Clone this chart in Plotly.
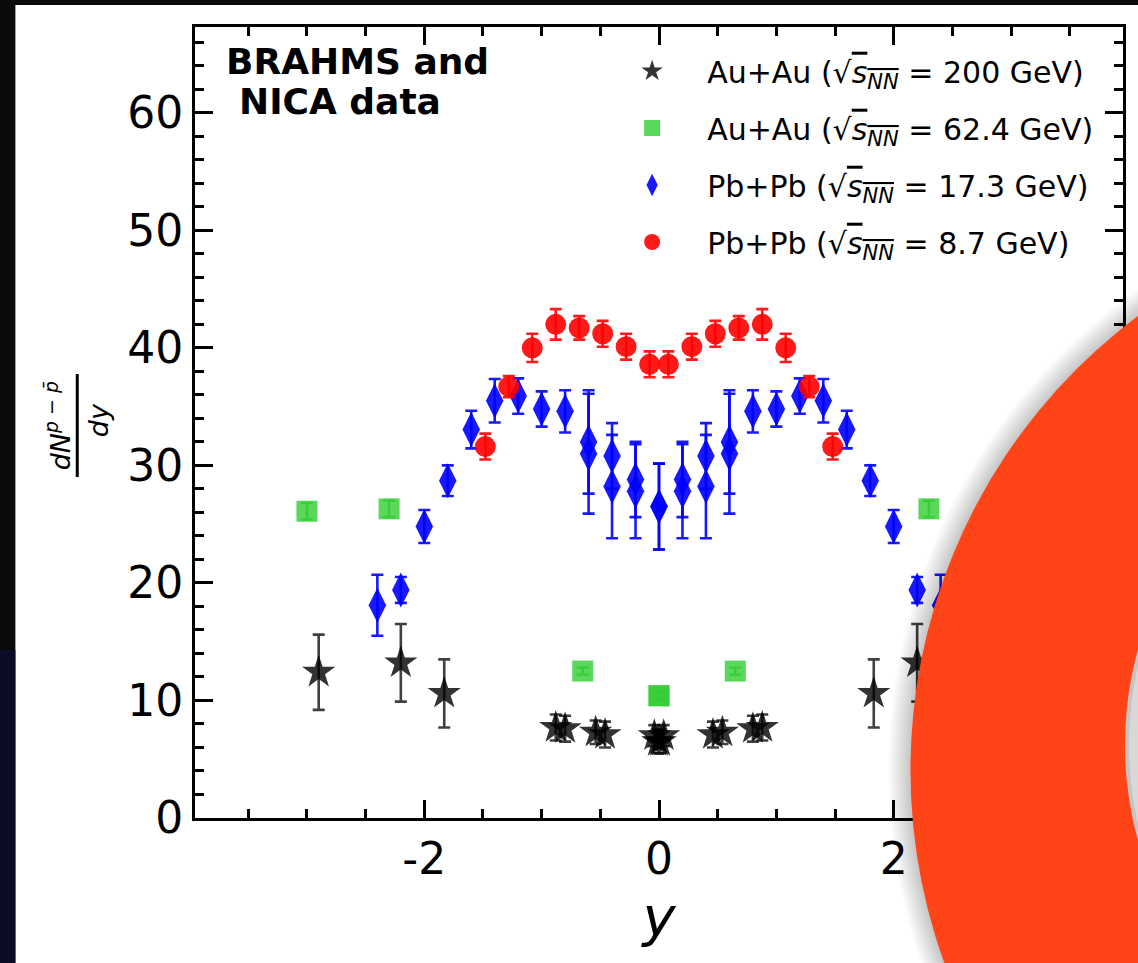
import plotly.graph_objects as go

# ---------------- data ----------------
# Au+Au, sqrt(sNN)=200 GeV (black stars)
auau200_x = [-2.90, -2.20, -1.83, -0.88, -0.80, -0.54, -0.46, -0.04, -0.01,
             0.01, 0.04, 0.46, 0.54, 0.80, 0.88, 1.83, 2.20, 2.90]
auau200_v = [12.4, 13.2, 10.6, 7.7, 7.6, 7.3, 7.1, 7.0, 6.5,
             6.5, 7.0, 7.1, 7.3, 7.6, 7.7, 10.6, 13.2, 12.4]
auau200_e = [3.2, 3.3, 2.9, 1.1, 1.1, 1.0, 1.1, 0.9, 1.0,
             1.0, 0.9, 1.1, 1.0, 1.1, 1.1, 2.9, 3.3, 3.2]

# Au+Au, sqrt(sNN)=62.4 GeV (green squares)
auau62_x = [-3.00, -2.30, -0.65, 0.00, 0.00, 0.65, 2.30, 3.00]
auau62_v = [26.1, 26.3, 12.5, 10.4, 10.4, 12.5, 26.3, 26.1]
auau62_e = [0.7, 0.7, 0.3, 0.3, 0.3, 0.3, 0.7, 0.7]

# Pb+Pb, sqrt(sNN)=17.3 GeV (blue diamonds)
pbpb17_x = [-2.4, -2.2, -2.0, -1.8, -1.6, -1.4, -1.2, -1.0, -0.8, -0.6, -0.6,
            -0.4, -0.4, -0.2, -0.2, 0.0, 0.0, 0.2, 0.2, 0.4, 0.4, 0.6, 0.6,
            0.8, 1.0, 1.2, 1.4, 1.6, 1.8, 2.0, 2.2, 2.4]
pbpb17_v = [18.1, 19.4, 24.8, 28.7, 33.05, 35.5, 35.9, 34.8, 34.6, 32.0, 31.0,
            30.8, 28.2, 28.8, 27.8, 26.5, 26.5, 27.8, 28.8, 28.2, 30.8, 31.0, 32.0,
            34.6, 34.8, 35.9, 35.5, 33.05, 28.7, 24.8, 19.4, 18.1]
pbpb17_e = [2.6, 1.1, 1.4, 1.3, 1.6, 1.85, 1.5, 1.5, 1.8, 4.4, 5.1,
            2.8, 4.4, 3.2, 4.0, 3.65, 3.65, 4.0, 3.2, 4.4, 2.8, 5.1, 4.4,
            1.8, 1.5, 1.5, 1.85, 1.6, 1.3, 1.4, 1.1, 2.6]

# Pb+Pb, sqrt(sNN)=8.7 GeV (red circles)
pbpb8_x = [-1.48, -1.28, -1.08, -0.88, -0.68, -0.48, -0.28, -0.08,
           0.08, 0.28, 0.48, 0.68, 0.88, 1.08, 1.28, 1.48]
pbpb8_v = [31.6, 36.7, 40.0, 42.0, 41.7, 41.2, 40.1, 38.6,
           38.6, 40.1, 41.2, 41.7, 42.0, 40.0, 36.7, 31.6]
pbpb8_e = [1.1, 0.9, 1.2, 1.3, 1.0, 1.1, 1.1, 1.1,
           1.1, 1.1, 1.1, 1.0, 1.3, 1.2, 0.9, 1.1]

series_names = [
    "Au+Au (√<span style='text-decoration:overline'><i>s</i><sub><i>NN</i></sub></span> = 200 GeV)",
    "Au+Au (√<span style='text-decoration:overline'><i>s</i><sub><i>NN</i></sub></span> = 62.4 GeV)",
    "Pb+Pb (√<span style='text-decoration:overline'><i>s</i><sub><i>NN</i></sub></span> = 17.3 GeV)",
    "Pb+Pb (√<span style='text-decoration:overline'><i>s</i><sub><i>NN</i></sub></span> = 8.7 GeV)",
]

x_tick_vals = [-2, 0, 2]
x_tick_text = ["-2", "0", "2"]
y_tick_vals = [0, 10, 20, 30, 40, 50, 60]
y_tick_text = ["0", "10", "20", "30", "40", "50", "60"]

# ---------------- figure geometry ----------------
W, H = 1138, 963
ML, MR, MT, MB = 195, 13, 27, 145
PW, PH = W - ML - MR, H - MT - MB


def px(xp):
    return (xp - ML) / PW


def py(yp):
    return (H - MB - yp) / PH


fig = go.Figure()


def add_series(name, xs, ys, es, symbol, size, mcolor, ecolor):
    fig.add_trace(go.Scatter(
        x=xs, y=ys, mode="markers", name=name, legendgroup=name,
        marker=dict(symbol=symbol, size=size, color=mcolor, line=dict(width=0)),
        error_y=dict(type="data", array=es, visible=True, color=ecolor,
                     thickness=2.6, width=6),
    ))


add_series(series_names[0], auau200_x, auau200_v, auau200_e, "star", 25,
           "rgba(0,0,0,0.8)", "rgba(0,0,0,0.75)")
add_series(series_names[1], auau62_x, auau62_v, auau62_e, "square", 21,
           "rgba(50,205,50,0.8)", "rgba(50,205,50,0.8)")
add_series(series_names[2], pbpb17_x, pbpb17_v, pbpb17_e, "diamond-tall", 25,
           "rgba(0,0,255,0.9)", "rgba(0,0,255,0.9)")
add_series(series_names[3], pbpb8_x, pbpb8_v, pbpb8_e, "circle", 21,
           "rgba(255,0,0,0.9)", "rgba(255,0,0,0.9)")

axis_common = dict(
    showgrid=False, zeroline=False, showline=True, linewidth=3, linecolor="black",
    mirror="ticks", ticks="inside", ticklen=18, tickwidth=3, tickcolor="black",
    tickfont=dict(family="DejaVu Sans", size=44, color="black"),
)

fig.update_xaxes(
    range=[-3.954, 3.954], tickmode="array", tickvals=x_tick_vals, ticktext=x_tick_text,
    minor=dict(dtick=0.5, tick0=0, ticks="inside", ticklen=9, tickwidth=3,
               tickcolor="black", showgrid=False),
    title=dict(text="<i>y</i>", font=dict(family="DejaVu Sans", size=56, color="black"),
               standoff=3),
    **axis_common,
)
fig.update_yaxes(
    range=[0, 67.3], tickmode="array", tickvals=y_tick_vals, ticktext=y_tick_text,
    minor=dict(dtick=2, tick0=0, ticks="inside", ticklen=9, tickwidth=3,
               tickcolor="black", showgrid=False),
    **axis_common,
)

shapes = [
    # white figure sheet on a dark surround
    dict(type="rect", xref="paper", yref="paper", x0=px(15), x1=px(1145),
         y0=py(970), y1=py(5), fillcolor="white", line=dict(width=0), layer="below"),
    dict(type="rect", xref="paper", yref="paper", x0=px(-5), x1=px(15),
         y0=py(970), y1=py(650), fillcolor="#0c0c26", line=dict(width=0), layer="below"),
    # fraction bar of the y-axis label
    dict(type="line", xref="paper", yref="paper", x0=px(77), x1=px(77),
         y0=py(477), y1=py(374), line=dict(color="black", width=3)),
]

# orange ring overlay (with a soft shadow)
cx, cy, r = 1478, 770, 566
for dr in range(22, 0, -2):
    shapes.append(dict(type="circle", xref="paper", yref="paper",
                       x0=px(cx - r - dr), x1=px(cx + r + dr),
                       y0=py(cy + r + dr), y1=py(cy - r - dr),
                       fillcolor="rgba(0,0,0,0.018)", line=dict(width=0), layer="above"))
shapes.append(dict(type="circle", xref="paper", yref="paper",
                   x0=px(cx - r), x1=px(cx + r), y0=py(cy + r), y1=py(cy - r),
                   fillcolor="#ff4518", line=dict(width=0), layer="above"))
icx, icy, ir = 1484, 745, 357
shapes.append(dict(type="circle", xref="paper", yref="paper",
                   x0=px(icx - ir), x1=px(icx + ir), y0=py(icy + ir), y1=py(icy - ir),
                   fillcolor="#c4c4c4", line=dict(width=0), layer="above"))
shapes.append(dict(type="circle", xref="paper", yref="paper",
                   x0=px(icx - ir + 4), x1=px(icx + ir), y0=py(icy + ir - 4), y1=py(icy - ir + 4),
                   fillcolor="#d8d8d8", line=dict(width=0), layer="above"))

annotations = [
    dict(text="<b>BRAHMS and</b>", xref="paper", yref="paper", x=px(225), y=py(40),
         xanchor="left", yanchor="top", showarrow=False, borderpad=0,
         font=dict(family="DejaVu Sans", size=36, color="black")),
    dict(text="<b>NICA data</b>", xref="paper", yref="paper", x=px(238), y=py(80),
         xanchor="left", yanchor="top", showarrow=False, borderpad=0,
         font=dict(family="DejaVu Sans", size=36, color="black")),
    dict(text="<i>dN</i><sup><i>p</i> − <i>p̄</i></sup>", xref="paper", yref="paper",
         x=px(57), y=py(426), xanchor="center", yanchor="middle", textangle=-90,
         showarrow=False, borderpad=0,
         font=dict(family="DejaVu Sans", size=27, color="black")),
    dict(text="<i>dy</i>", xref="paper", yref="paper",
         x=px(98), y=py(420), xanchor="center", yanchor="middle", textangle=-90,
         showarrow=False, borderpad=0,
         font=dict(family="DejaVu Sans", size=27, color="black")),
]

fig.update_layout(
    width=W, height=H, margin=dict(l=ML, r=MR, t=MT, b=MB),
    paper_bgcolor="#0b0b0e", plot_bgcolor="white",
    font=dict(family="DejaVu Sans", color="black"),
    showlegend=True,
    legend=dict(x=px(598), y=py(45), xanchor="left", yanchor="top",
                bgcolor="rgba(0,0,0,0)", borderwidth=0,
                font=dict(family="DejaVu Sans", size=30, color="black"),
                traceorder="grouped", tracegroupgap=15, itemwidth=100),
    shapes=shapes, annotations=annotations,
)

fig.write_html("out.html")
